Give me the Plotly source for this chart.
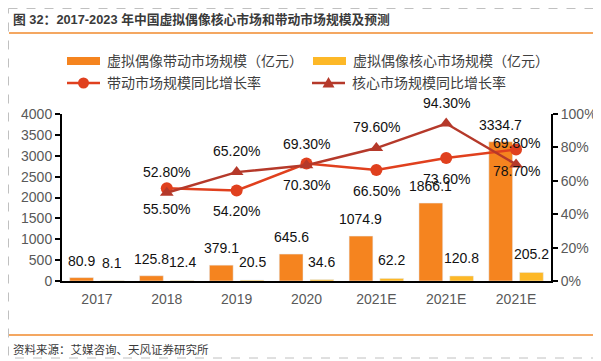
import plotly.graph_objects as go

# ---- data ----
categories = ["2017", "2018", "2019", "2020", "2021E", "2021E", "2021E"]
drive_market = [80.9, 125.8, 379.1, 645.6, 1074.9, 1866.1, 3334.7]   # 虚拟偶像带动市场规模（亿元）
core_market = [8.1, 12.4, 20.5, 34.6, 62.2, 120.8, 205.2]            # 虚拟偶像核心市场规模（亿元）
drive_growth = [None, 55.5, 54.2, 70.3, 66.5, 73.6, 78.7]            # 带动市场规模同比增长率 (%)
core_growth = [None, 52.8, 65.2, 69.3, 79.6, 94.3, 69.8]             # 核心市场规模同比增长率 (%)
left_ticks = [0, 500, 1000, 1500, 2000, 2500, 3000, 3500, 4000]
right_ticks = [0, 20, 40, 60, 80, 100]
right_tick_labels = ["0%", "20%", "40%", "60%", "80%", "100%"]

names = ["虚拟偶像带动市场规模（亿元）", "虚拟偶像核心市场规模（亿元）",
         "带动市场规模同比增长率", "核心市场规模同比增长率"]
title_text = "图 32：2017-2023 年中国虚拟偶像核心市场和带动市场规模及预测"
source_text = "资料来源：艾媒咨询、天风证券研究所"

# ---- style ----
OFF = 8  # page body margin
W, H = 601 - OFF, 361 - OFF
L, R, T, B = 62 - OFF, 50, 114 - OFF, 80
PW, PH = W - L - R, H - T - B
FONT = "Liberation Sans, Arial, Noto Sans CJK SC, sans-serif"
C_DRIVE = "#F5841F"
C_CORE = "#FDB827"
C_DLINE = "#E0401E"
C_CLINE = "#B5392A"
C_ORANGE_RULE = "#F08A2C"
TICK_GRAY = "#595959"


def px(x):
    # x in reference-window pixels -> paper coordinate
    return (x - OFF - L) / PW


def py(y):
    return (T + PH - (y - OFF)) / PH


xs = list(range(len(categories)))

fig = go.Figure()
fig.add_trace(go.Bar(x=xs, y=drive_market, name=names[0], marker_color=C_DRIVE,
                     width=0.34, offset=-0.39, showlegend=False))
fig.add_trace(go.Bar(x=xs, y=core_market, name=names[1], marker_color=C_CORE,
                     width=0.34, offset=0.05, showlegend=False))
fig.add_trace(go.Scatter(x=xs, y=drive_growth, name=names[2], yaxis="y2",
                         mode="lines+markers", line=dict(color=C_DLINE, width=2.5),
                         marker=dict(symbol="circle", size=12, color=C_DLINE),
                         showlegend=False))
fig.add_trace(go.Scatter(x=xs, y=core_growth, name=names[3], yaxis="y2",
                         mode="lines+markers", line=dict(color=C_CLINE, width=2.5),
                         marker=dict(symbol="triangle-up", size=12, color=C_CLINE),
                         showlegend=False))

ann = []
lab_font = dict(family=FONT, size=14, color="#111111")
for i, v in enumerate(drive_market):
    ann.append(dict(x=i - 0.22, y=v, xref="x", yref="y", text=f"{v:.1f}", showarrow=False,
                    yanchor="middle", yshift=17, font=lab_font))
for i, v in enumerate(core_market):
    ann.append(dict(x=i + 0.22, y=v, xref="x", yref="y", text=f"{v:.1f}", showarrow=False,
                    yanchor="middle", yshift=18, font=lab_font))
for i, v in enumerate(core_growth):
    if v is not None:
        ann.append(dict(x=i, y=v, xref="x", yref="y2", text=f"{v:.2f}%", showarrow=False,
                        yanchor="middle", yshift=21, font=lab_font))
for i, v in enumerate(drive_growth):
    if v is not None:
        ann.append(dict(x=i, y=v, xref="x", yref="y2", text=f"{v:.2f}%", showarrow=False,
                        yanchor="middle", yshift=-21, font=lab_font))

# title and source
ann.append(dict(x=px(11), y=py(19), xref="paper", yref="paper", text=f"<b>{title_text}</b>",
                showarrow=False, xanchor="left", yanchor="middle",
                font=dict(family=FONT, size=12.8, color="#3a3a3a")))
ann.append(dict(x=px(11), y=py(349), xref="paper", yref="paper", text=source_text,
                showarrow=False, xanchor="left", yanchor="middle",
                font=dict(family=FONT, size=11.5, color="#3a3a3a")))

# manual legend
leg_font = dict(family=FONT, size=14, color="#404040")
shapes = []
leg_items = [
    (67, 61, "bar", C_DRIVE, names[0]),
    (313, 61, "bar", C_CORE, names[1]),
    (67, 83, "circle", C_DLINE, names[2]),
    (312, 83, "triangle", C_CLINE, names[3]),
]
for x0, yc, kind, col, txt in leg_items:
    if kind == "bar":
        shapes.append(dict(type="rect", xref="paper", yref="paper", x0=px(x0), x1=px(x0 + 33),
                           y0=py(yc - 4), y1=py(yc + 4), fillcolor=col, line=dict(width=0)))
    else:
        shapes.append(dict(type="line", xref="paper", yref="paper", x0=px(x0), x1=px(x0 + 33),
                           y0=py(yc), y1=py(yc), line=dict(color=col, width=2.5)))
        cx = x0 + 16.5
        if kind == "circle":
            shapes.append(dict(type="circle", xref="paper", yref="paper", x0=px(cx - 5.5),
                               x1=px(cx + 5.5), y0=py(yc - 5.5), y1=py(yc + 5.5),
                               fillcolor=col, line=dict(width=0)))
        else:
            path = (f"M {px(cx - 6)} {py(yc + 4.5)} L {px(cx + 6)} {py(yc + 4.5)} "
                    f"L {px(cx)} {py(yc - 6)} Z")
            shapes.append(dict(type="path", xref="paper", yref="paper", path=path,
                               fillcolor=col, line=dict(width=0)))
    ann.append(dict(x=px(x0 + 38), y=py(yc), xref="paper", yref="paper", text=txt,
                    showarrow=False, xanchor="left", yanchor="middle", font=leg_font))

# orange rules and dashed frame
shapes.append(dict(type="line", xref="paper", yref="paper", x0=px(9), x1=px(598),
                   y0=py(33), y1=py(33), line=dict(color=C_ORANGE_RULE, width=1.5)))
shapes.append(dict(type="line", xref="paper", yref="paper", x0=px(9), x1=px(598),
                   y0=py(335), y1=py(335), line=dict(color=C_ORANGE_RULE, width=1.5)))
shapes.append(dict(type="rect", xref="paper", yref="paper", x0=px(8.5), x1=px(597.5),
                   y0=py(8.5), y1=py(358), line=dict(color="#c0c0c0", width=1, dash="dash"),
                   fillcolor="rgba(0,0,0,0)", layer="below"))

axis_font = dict(family=FONT, size=14, color=TICK_GRAY)
fig.update_layout(
    width=W, height=H, margin=dict(l=L, r=R, t=T, b=B, autoexpand=False),
    paper_bgcolor="white", plot_bgcolor="white",
    barmode="overlay", showlegend=False,
    font=dict(family=FONT),
    xaxis=dict(range=[-0.5, len(categories) - 0.5], tickvals=xs, ticktext=categories,
               showline=True, linecolor="black", linewidth=2, ticks="", showgrid=False,
               zeroline=False, tickfont=axis_font, fixedrange=True, ticklabelstandoff=4),
    yaxis=dict(range=[0, 4000], tickvals=left_ticks, showline=True, linecolor="black",
               linewidth=2, ticks="outside", ticklen=5, tickwidth=2, tickcolor="black",
               showgrid=False, zeroline=False, tickfont=axis_font),
    yaxis2=dict(range=[0, 100], tickvals=right_ticks, ticktext=right_tick_labels,
                overlaying="y", side="right", showline=True, linecolor="black", linewidth=2,
                ticks="outside", ticklen=5, tickwidth=2, tickcolor="black",
                showgrid=False, zeroline=False, tickfont=axis_font),
    annotations=ann, shapes=shapes,
)

fig.write_html("out.html")
